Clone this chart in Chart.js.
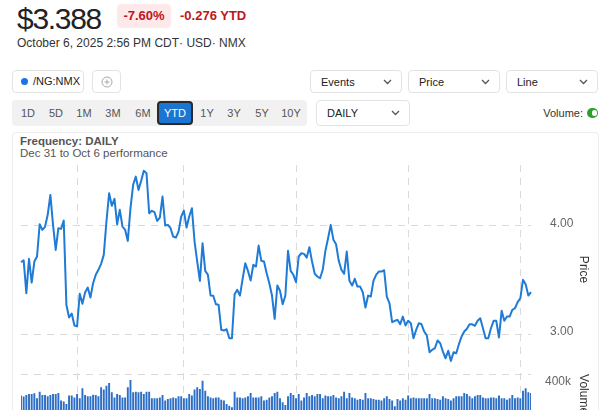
<!DOCTYPE html>
<html><head><meta charset="utf-8">
<script src="https://cdn.jsdelivr.net/npm/chart.js@4"></script>
<style>
html,body{margin:0;padding:0;width:615px;height:410px;overflow:hidden;background:#fff;font-family:Arial,"Liberation Sans",Helvetica,sans-serif;}
.a{position:absolute;}
.box{position:absolute;border:1px solid #e3e3e3;border-radius:4px;background:#fff;box-sizing:border-box;}
.dd{font-size:11px;color:#222;}
.dd span{position:absolute;left:10px;top:50%;transform:translateY(-50%);}
.dd svg{position:absolute;right:9px;top:50%;margin-top:-3px;}
.rg{position:absolute;top:100px;height:26px;line-height:26px;font-size:11px;color:#555;transform:translateX(-50%);}
</style></head><body>

<div class="a" style="left:17px;top:4px;font-size:30px;line-height:30px;letter-spacing:-1.3px;color:#222;">$3.388</div>
<div class="a" style="left:117px;top:4px;width:54px;height:24px;background:#fde9e9;border-radius:4px;color:#c0161c;font-weight:bold;font-size:13px;line-height:24px;text-align:center;">-7.60%</div>
<div class="a" style="left:180px;top:4px;height:24px;line-height:24px;color:#c0161c;font-weight:bold;font-size:13px;">-0.276 YTD</div>
<div class="a" style="left:17px;top:36px;font-size:12px;line-height:14px;color:#333;">October 6, 2025 2:56 PM CDT· USD· NMX</div>

<div class="box" style="left:12px;top:70px;width:72px;height:23px;">
  <div class="a" style="left:8px;top:7px;width:7px;height:7px;border-radius:50%;background:#1a73e8;"></div>
  <div class="a" style="left:20px;top:0;line-height:21px;font-size:11px;color:#222;">/NG:NMX</div>
</div>
<div class="box" style="left:92px;top:70px;width:29px;height:23px;">
  <svg class="a" style="left:8px;top:5px" width="12" height="12" viewBox="0 0 12 12"><circle cx="6" cy="6" r="5" fill="none" stroke="#aaa" stroke-width="1"/><path d="M6 3.5v5M3.5 6h5" stroke="#aaa" stroke-width="1"/></svg>
</div>
<div class="box dd" style="left:310px;top:70px;width:92px;height:23px;"><span>Events</span><svg width="9" height="6" viewBox="0 0 9 6"><path d="M1 1l3.5 3.5L8 1" fill="none" stroke="#555" stroke-width="1.3"/></svg></div>
<div class="box dd" style="left:408px;top:70px;width:92px;height:23px;"><span>Price</span><svg width="9" height="6" viewBox="0 0 9 6"><path d="M1 1l3.5 3.5L8 1" fill="none" stroke="#555" stroke-width="1.3"/></svg></div>
<div class="box dd" style="left:506px;top:70px;width:92px;height:23px;"><span>Line</span><svg width="9" height="6" viewBox="0 0 9 6"><path d="M1 1l3.5 3.5L8 1" fill="none" stroke="#555" stroke-width="1.3"/></svg></div>

<div class="a" style="left:12px;top:100px;width:295px;height:26px;background:#f1f1f1;border-radius:4px;"></div>
<div class="rg" style="left:28px">1D</div>
<div class="rg" style="left:56px">5D</div>
<div class="rg" style="left:84px">1M</div>
<div class="rg" style="left:113px">3M</div>
<div class="rg" style="left:143px">6M</div>
<div class="a" style="left:157px;top:101px;width:36px;height:24px;box-sizing:border-box;border:2px solid #2a2a2a;border-radius:4px;background:#1a76d2;color:#fff;font-size:11px;line-height:20px;text-align:center;">YTD</div>
<div class="rg" style="left:207px">1Y</div>
<div class="rg" style="left:234px">3Y</div>
<div class="rg" style="left:262px">5Y</div>
<div class="rg" style="left:291px">10Y</div>
<div class="box dd" style="left:316px;top:100px;width:94px;height:26px;"><span>DAILY</span><svg width="9" height="6" viewBox="0 0 9 6"><path d="M1 1l3.5 3.5L8 1" fill="none" stroke="#555" stroke-width="1.3"/></svg></div>
<div class="a" style="right:32px;top:100px;line-height:26px;font-size:11px;color:#333;">Volume:</div>
<div class="a" style="left:587px;top:108px;width:11px;height:10px;border-radius:5px;background:#2e9e2e;"><div class="a" style="left:5px;top:2px;width:5px;height:6px;border-radius:3px;background:#fff;"></div></div>

<div class="a" style="left:12px;top:132px;width:587px;height:320px;border:1px solid #ececec;border-radius:4px;box-sizing:border-box;"></div>
<div class="a" style="left:20px;top:135px;font-size:11.5px;font-weight:bold;color:#555;line-height:13px;">Frequency: DAILY</div>
<div class="a" style="left:20px;top:147px;font-size:11.5px;color:#555;line-height:13px;">Dec 31 to Oct 6 performance</div>

<div class="a" style="left:13px;top:133px;width:586px;height:340px;"><canvas id="c" width="586" height="332"></canvas></div>

<script>
// ---- data ----
const startDate = '2024-12-31';
const endDate = '2025-10-06';
const marketHolidays = ['2025-01-01','2025-01-20','2025-02-17','2025-04-18','2025-05-26','2025-06-19','2025-07-04','2025-09-01'];
const monthGridDates = ['2025-01-31','2025-03-31','2025-05-30','2025-07-31','2025-09-30'];

const priceValues = [
 3.664,3.682,3.378,3.695,3.476,3.670,3.717,4.015,3.963,3.991,
 4.102,4.286,4.009,3.778,3.978,3.972,4.049,3.271,3.153,3.190,
 3.079,3.073,3.372,3.280,3.384,3.430,3.338,3.470,3.548,3.594,
 3.649,3.732,4.040,4.301,4.185,4.249,4.015,4.148,3.994,3.963,
 3.861,4.163,4.379,4.455,4.332,4.416,4.508,
 4.486,4.116,4.139,4.126,4.046,4.077,4.271,4.003,4.009,3.978,
 3.901,3.892,3.947,4.086,4.141,3.984,4.086,4.163,3.855,3.670,
 3.492,3.839,3.584,3.548,3.356,3.354,3.276,3.271,3.040,3.033,
 3.045,2.962,2.962,3.368,3.409,3.356,3.511,3.655,3.584,3.495,
 3.640,3.624,3.818,3.677,3.670,3.562,3.470,
 3.356,3.141,3.449,3.400,3.276,3.354,3.769,3.584,3.548,3.479,
 3.717,3.747,3.741,3.707,3.802,3.670,3.557,3.532,3.516,3.594,
 3.769,3.885,4.009,3.871,3.830,3.677,3.594,3.557,3.763,3.492,
 3.449,3.511,3.439,3.439,3.387,3.246,3.356,3.347,3.492,3.548,
 3.578,3.578,3.590,3.347,3.285,3.110,3.123,3.132,3.091,
 3.162,3.079,3.123,3.101,2.962,3.040,3.101,3.091,3.024,2.987,
 2.833,2.855,2.870,2.941,2.916,2.839,2.777,2.846,2.753,2.833,
 2.824,2.907,2.978,3.024,3.049,3.091,3.091,3.077,3.123,3.147,
 3.054,2.962,2.962,3.054,3.123,3.123,2.969,3.215,3.123,3.162,
 3.162,3.224,3.239,3.295,3.331,3.501,3.461,3.356,3.388
];

const volumeValues = [
 267000,261000,271000,277000,277000,281000,250000,291000,271000,271000,
 263000,271000,277000,277000,283000,236000,230000,215000,267000,267000,
 256000,277000,250000,312000,271000,263000,263000,273000,271000,263000,
 318000,304000,328000,345000,287000,256000,277000,271000,256000,256000,
 318000,363000,287000,291000,287000,291000,277000,291000,291000,250000,
 250000,250000,256000,271000,236000,246000,250000,256000,250000,263000,
 263000,250000,250000,277000,267000,304000,318000,308000,359000,297000,
 263000,256000,250000,256000,256000,242000,236000,215000,205000,195000,
 291000,256000,256000,250000,256000,263000,283000,256000,256000,256000,
 263000,236000,242000,256000,263000,283000,291000,250000,226000,209000,
 263000,283000,271000,250000,277000,
 236000,256000,283000,263000,271000,263000,277000,277000,250000,267000,
 263000,263000,271000,256000,250000,263000,291000,250000,283000,256000,
 250000,242000,246000,242000,283000,250000,250000,246000,242000,242000,
 236000,250000,263000,246000,236000,201000,246000,236000,250000,242000,267000,
 250000,256000,250000,250000,250000,250000,250000,277000,250000,250000,
 246000,242000,263000,250000,246000,236000,250000,263000,263000,263000,
 283000,277000,263000,250000,263000,271000,271000,256000,250000,250000,
 256000,256000,250000,267000,250000,250000,242000,250000,271000,250000,
 256000,250000,297000,312000,287000,283000
];

const priceTicks = [3, 4];
const volumeTicks = [400000];
const priceRange = [2.631, 4.562];
const volumeRange = [0, 400000];

function tradingDays() {
  const out = [];
  const d = new Date(startDate + 'T00:00:00Z');
  const end = new Date(endDate + 'T00:00:00Z');
  while (d <= end) {
    const w = d.getUTCDay();
    const s = d.toISOString().slice(0, 10);
    if (w !== 0 && w !== 6 && !marketHolidays.includes(s)) out.push(s);
    d.setUTCDate(d.getUTCDate() + 1);
  }
  return out;
}
const dates = tradingDays();

const GRID = '#dadada';
const DASH = [7, 6];
const FONT = { size: 12, family: 'Arial, "Liberation Sans", sans-serif' };

new Chart(document.getElementById('c'), {
  data: {
    labels: dates,
    datasets: [
      { type: 'line', data: priceValues, yAxisID: 'y', borderColor: '#1f7bd6', borderWidth: 2,
        pointRadius: 0, tension: 0, borderJoinStyle: 'round', order: 0 },
      { type: 'bar', data: volumeValues, yAxisID: 'yv', backgroundColor: '#2d6fc6',
        barPercentage: 0.72, categoryPercentage: 1, order: 1 }
    ]
  },
  options: {
    responsive: false, animation: false, maintainAspectRatio: false,
    layout: { padding: { left: 8, top: 32, right: 0, bottom: 3 } },
    plugins: { legend: { display: false }, tooltip: { enabled: false } },
    scales: {
      x: {
        type: 'category', offset: false,
        grid: { offset: false, drawTicks: false, lineWidth: 1,
          color: c => (c.tick && monthGridDates.includes(dates[c.tick.value])) ? GRID : 'rgba(0,0,0,0)' },
        border: { display: false, dash: DASH },
        ticks: { display: false, autoSkip: false },
        afterFit(s) { s.height = 0; }
      },
      y: {
        position: 'right', stack: 'right', stackWeight: 210,
        min: priceRange[0], max: priceRange[1],
        afterBuildTicks(s) { s.ticks = priceTicks.map(v => ({ value: v })); },
        ticks: { padding: 19, labelOffset: -2, color: '#666', font: FONT,
          callback: v => Number(v).toFixed(2) },
        grid: { drawTicks: false, color: GRID },
        border: { display: false, dash: DASH },
        title: { display: true, text: 'Price', color: '#333', font: FONT, padding: 8 },
        afterFit(s) { s.width = 68; }
      },
      yv: {
        position: 'right', stack: 'right', stackWeight: 65,
        min: volumeRange[0], max: volumeRange[1],
        afterBuildTicks(s) { s.ticks = volumeTicks.map(v => ({ value: v })); },
        ticks: { padding: 14, labelOffset: 8, color: '#666', font: FONT,
          callback: v => (v / 1000) + 'k' },
        grid: { drawTicks: false, color: GRID },
        border: { display: false, dash: DASH },
        title: { display: true, text: 'Volume', align: 'end', color: '#333', font: FONT, padding: 8 },
        afterFit(s) { s.width = 68; }
      }
    }
  }
});
</script>
</body></html>
